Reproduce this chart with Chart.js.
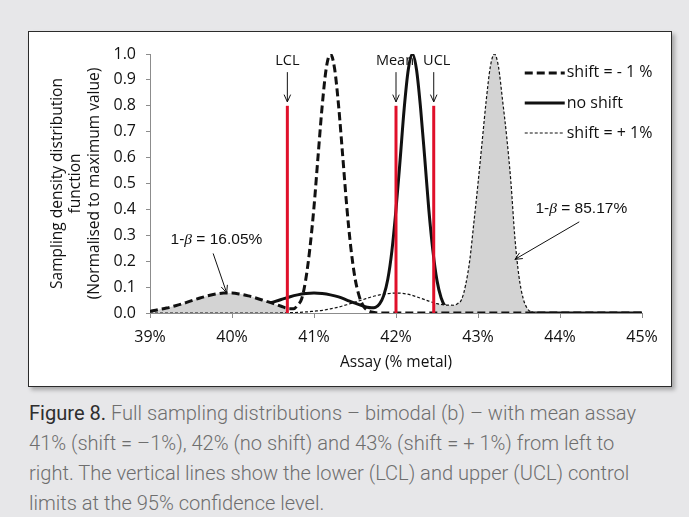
<!DOCTYPE html>
<html>
<head>
<meta charset="utf-8">
<script src="https://cdn.jsdelivr.net/npm/chart.js@4.4.1/dist/chart.umd.min.js"></script>
<style>
  html, body { margin: 0; padding: 0; background: #e7e7e9; }
  body { width: 689px; height: 517px; position: relative; overflow: hidden; }
  #box { position: absolute; left: 28px; top: 31px; width: 642px; height: 354px; background: #fff;
         border: 1px solid #2b2b2b; box-shadow: 3px 3px 4px rgba(0,0,0,0.28); }
  #box canvas { display: block; }
  #caption { position: absolute; left: 29px; top: 398px; font-family: Roboto, "Liberation Sans", sans-serif; font-weight: 300;
             font-size: 21px; line-height: 30px; color: #6e6e6e; white-space: nowrap; transform-origin: 0 0; }
  #caption b { color: #2e2e2e; font-weight: 400; }
</style>
</head>
<body>
<div id="box"><canvas id="chart" width="642" height="354"></canvas></div>
<div id="caption"><b>Figure 8.</b> Full sampling distributions – bimodal (b) – with mean assay<br>41% (shift = –1%), 42% (no shift) and 43% (shift = + 1%) from left to<br>right. The vertical lines show the lower (LCL) and upper (UCL) control<br>limits at the 95% confidence level.</div>
<script>
// values: assay (% metal) and density normalised to its max

// shift = -1 %
var xMinus = [39.0, 39.1, 39.2, 39.3, 39.4, 39.5, 39.6, 39.7, 39.8, 39.9, 40.0, 40.1, 40.2, 40.3, 40.4, 40.5, 40.6,
              40.65, 40.7, 40.75, 40.8, 40.85, 40.9, 40.95, 41.0, 41.05, 41.1, 41.15, 41.2, 41.25, 41.3, 41.35, 41.4,
              41.45, 41.5, 41.55, 41.6, 41.65, 41.7, 41.8, 45.0];
var yMinus = [0.006, 0.013, 0.019, 0.027, 0.036, 0.047, 0.057, 0.066, 0.073, 0.077, 0.077, 0.073, 0.066, 0.057, 0.047, 0.037, 0.026,
              0.020, 0.016, 0.016, 0.030, 0.055, 0.130, 0.250, 0.410, 0.607, 0.800, 0.946, 1.000, 0.946, 0.800, 0.607, 0.410,
              0.250, 0.135, 0.066, 0.028, 0.011, 0.004, 0.000, 0.000];

// no shift
var xNone = [39.0, 39.5, 39.8, 40.0, 40.1, 40.2, 40.3, 40.4, 40.5, 40.6, 40.7, 40.8, 40.9, 41.0, 41.1, 41.2, 41.3, 41.4, 41.5, 41.6,
             41.65, 41.7, 41.75, 41.8, 41.85, 41.9, 41.95, 42.0, 42.05, 42.1, 42.15, 42.2, 42.25, 42.3, 42.35, 42.4, 42.45,
             42.5, 42.55, 42.6, 42.65, 42.7, 42.8, 45.0];
var yNone = [0.000, 0.000, 0.002, 0.006, 0.010, 0.016, 0.023, 0.032, 0.042, 0.052, 0.062, 0.070, 0.075, 0.077, 0.075, 0.070, 0.062, 0.050, 0.038, 0.027,
             0.022, 0.020, 0.022, 0.035, 0.067, 0.130, 0.240, 0.400, 0.590, 0.790, 0.940, 1.000, 0.940, 0.790, 0.600, 0.400, 0.240,
             0.125, 0.059, 0.025, 0.010, 0.003, 0.000, 0.000];

// shift = +1 %
var xPlus = [39.0, 40.5, 40.7, 40.9, 41.0, 41.1, 41.2, 41.3, 41.4, 41.5, 41.6, 41.7, 41.8, 41.9, 42.0, 42.1, 42.2, 42.3, 42.4, 42.5, 42.6, 42.7,
             42.75, 42.8, 42.85, 42.9, 42.95, 43.0, 43.05, 43.1, 43.15, 43.2, 43.25, 43.3, 43.35, 43.4, 43.45, 43.5, 43.55, 43.6,
             43.65, 43.7, 43.8, 45.0];
var yPlus = [0.000, 0.000, 0.001, 0.004, 0.007, 0.010, 0.016, 0.023, 0.032, 0.042, 0.052, 0.062, 0.070, 0.075, 0.077, 0.075, 0.068, 0.057, 0.046, 0.036, 0.031, 0.030,
             0.036, 0.052, 0.110, 0.205, 0.350, 0.500, 0.660, 0.820, 0.950, 1.000, 0.950, 0.820, 0.680, 0.510, 0.290, 0.140, 0.057, 0.018,
             0.004, 0.001, 0.000, 0.000];

var seriesNames = ['shift = - 1 %', 'no shift', 'shift = + 1%'];

// control limits (vertical red lines)
var controlNames = ['LCL', 'Mean', 'UCL'];
var controlX = [40.675, 42.0, 42.46];
var controlTop = 0.8;

// 1-beta (power) for the shifted distributions
var powerText = ['16.05%', '85.17%'];

var xTicks = [39, 40, 41, 42, 43, 44, 45];
var yTicks = [0.0, 0.1, 0.2, 0.3, 0.4, 0.5, 0.6, 0.7, 0.8, 0.9, 1.0];

var FONT = "'Open Sans', sans-serif";
var RED = '#e0102a';
var GREY = '#d3d3d3';

function pts(xs, ys) {
  return xs.map(function(x, i) { return {x: x, y: ys[i]}; });
}

// piece of a series between two assay values, ends interpolated
function slice(xs, ys, from, to) {
  function at(v) {
    for (var i = 1; i < xs.length; i++) {
      if (xs[i] >= v) {
        var t = (v - xs[i - 1]) / (xs[i] - xs[i - 1]);
        return ys[i - 1] + t * (ys[i] - ys[i - 1]);
      }
    }
    return ys[ys.length - 1];
  }
  var out = [{x: from, y: at(from)}];
  xs.forEach(function(x, i) { if (x > from && x < to) out.push({x: x, y: ys[i]}); });
  out.push({x: to, y: at(to)});
  return out;
}

function arrow(ctx, x1, y1, x2, y2) {
  var a = Math.atan2(y2 - y1, x2 - x1), h = 8, w = 0.42;
  ctx.beginPath();
  ctx.moveTo(x1, y1);
  ctx.lineTo(x2, y2);
  ctx.moveTo(x2 - h * Math.cos(a - w), y2 - h * Math.sin(a - w));
  ctx.lineTo(x2, y2);
  ctx.lineTo(x2 - h * Math.cos(a + w), y2 - h * Math.sin(a + w));
  ctx.stroke();
}

var line = {pointRadius: 0, fill: false, cubicInterpolationMode: 'monotone', borderCapStyle: 'butt'};

var datasets = [
  Object.assign({label: seriesNames[0], data: pts(xMinus, yMinus), borderColor: '#111', borderWidth: 3, borderDash: [8, 4], order: 1}, line),
  Object.assign({label: seriesNames[1], data: pts(xNone, yNone), borderColor: '#111', borderWidth: 3, order: 4}, line),
  Object.assign({label: seriesNames[2], data: pts(xPlus, yPlus), borderColor: '#111', borderWidth: 1.2, borderDash: [3, 2], order: 2}, line),
  // shaded power areas
  Object.assign({}, line, {label: 'fillMinus', data: slice(xMinus, yMinus, xTicks[0], controlX[0]), fill: 'origin',
    backgroundColor: GREY, borderWidth: 0, order: 3}),
  Object.assign({}, line, {label: 'fillPlus', data: slice(xPlus, yPlus, controlX[2], xTicks[xTicks.length - 1]), fill: 'origin',
    backgroundColor: GREY, borderWidth: 0, order: 3})
];
controlX.forEach(function(cx, i) {
  datasets.push({label: controlNames[i], data: [{x: cx, y: 0}, {x: cx, y: controlTop}], borderColor: RED,
    borderWidth: 3, pointRadius: 0, fill: false, order: 0});
});

// labels, arrows and the legend drawn straight on the canvas
var notes = {
  id: 'notes',
  beforeDatasetsDraw: function(chart, args, o) {
    var ctx = chart.ctx, xs = chart.scales.x, ys = chart.scales.y;
    ctx.save();
    ctx.strokeStyle = '#111'; ctx.fillStyle = '#111'; ctx.lineWidth = 1;
    ctx.font = '14.5px ' + FONT; ctx.textAlign = 'center'; ctx.textBaseline = 'middle';
    controlNames.forEach(function(n, i) {
      var x = xs.getPixelForValue(controlX[i]);
      ctx.fillText(n, x + o.labelShift[i], ys.getPixelForValue(o.labelY));
      arrow(ctx, x, ys.getPixelForValue(o.arrowFrom), x, ys.getPixelForValue(o.arrowTo));
    });
    ctx.restore();
  },
  afterDatasetsDraw: function(chart, args, o) {
    var ctx = chart.ctx, xs = chart.scales.x, ys = chart.scales.y;
    ctx.save();
    ctx.strokeStyle = '#111'; ctx.fillStyle = '#111'; ctx.lineWidth = 1;
    ctx.textBaseline = 'middle';

    // 1-β = ... notes
    var plain = "15.5px 'Liberation Sans', sans-serif", ital = "italic 15.5px 'Liberation Serif', serif";
    o.power.forEach(function(p, i) {
      var parts = [['1-', plain], ['\u03b2', ital], [' = ' + powerText[i], plain]];
      var w = 0;
      parts.forEach(function(q) { ctx.font = q[1]; w += ctx.measureText(q[0]).width; });
      var x = xs.getPixelForValue(p.tx) - w / 2, y = ys.getPixelForValue(p.ty);
      ctx.textAlign = 'left';
      parts.forEach(function(q) { ctx.font = q[1]; ctx.fillText(q[0], x, y); x += ctx.measureText(q[0]).width; });
      arrow(ctx, xs.getPixelForValue(p.ax), ys.getPixelForValue(p.ay), xs.getPixelForValue(p.bx), ys.getPixelForValue(p.by));
    });

    // legend
    ctx.font = '16px ' + FONT; ctx.textAlign = 'left';
    o.legend.forEach(function(y, i) {
      var ds = chart.data.datasets[i];
      var x0 = xs.getPixelForValue(o.legendX), yy = ys.getPixelForValue(y);
      ctx.save();
      ctx.lineWidth = ds.borderWidth; ctx.setLineDash(ds.borderDash || []);
      ctx.beginPath(); ctx.moveTo(x0, yy); ctx.lineTo(x0 + o.legendLen, yy); ctx.stroke();
      ctx.restore();
      ctx.fillText(ds.label, x0 + o.legendLen + 2, yy);
    });
    ctx.restore();
  }
};

new Chart(document.getElementById('chart'), {
  type: 'line',
  data: {datasets: datasets},
  plugins: [notes],
  options: {
    responsive: false,
    animation: false,
    events: [],
    devicePixelRatio: 1,
    layout: {padding: {left: 0, top: 22, right: 29, bottom: 0}},
    plugins: {
      legend: {display: false},
      tooltip: {enabled: false},
      notes: {
        labelY: 0.973, labelShift: [0, -1, 3], arrowFrom: 0.93, arrowTo: 0.815,
        power: [
          {tx: 39.81, ty: 0.282, ax: 39.77, ay: 0.23, bx: 39.935, by: 0.078},
          {tx: 44.26, ty: 0.401, ax: 44.235, ay: 0.352, bx: 43.45, by: 0.207}
        ],
        legend: [0.927, 0.811, 0.695], legendX: 43.57, legendLen: 40
      }
    },
    scales: {
      x: {
        type: 'linear', min: xTicks[0], max: xTicks[xTicks.length - 1],
        afterBuildTicks: function(s) { s.ticks = xTicks.map(function(v) { return {value: v}; }); },
        afterFit: function(s) { s.height = 73; },
        ticks: {callback: function(v) { return v + '%'; }, padding: 10, color: '#111', font: {family: FONT, size: 16}, maxRotation: 0},
        grid: {drawOnChartArea: false, tickLength: 5, color: '#8c8c8c'},
        border: {color: '#8c8c8c'},
        title: {display: true, text: 'Assay (% metal)', color: '#111', font: {family: FONT, size: 15.5}, padding: {top: 4, bottom: 14}}
      },
      y: {
        min: 0, max: 1,
        afterBuildTicks: function(s) { s.ticks = yTicks.map(function(v) { return {value: v}; }); },
        afterFit: function(s) { s.width = 121; },
        ticks: {callback: function(v) { return v.toFixed(1); }, padding: 10, color: '#111', font: {family: FONT, size: 16}},
        grid: {drawOnChartArea: false, tickLength: 4, color: '#8c8c8c'},
        border: {color: '#8c8c8c'},
        title: {display: true, text: ['Sampling density distribution', 'function', '(Normalised to maximum value)'],
          color: '#111', font: {family: FONT, size: 15.5}, padding: {top: 19, bottom: 0}}
      }
    }
  }
});

// squeeze the caption to the column width of the original (condensed face)
var cap = document.getElementById('caption');
cap.style.transform = 'scaleX(' + (607 / cap.getBoundingClientRect().width) + ')';
</script>
</body>
</html>
